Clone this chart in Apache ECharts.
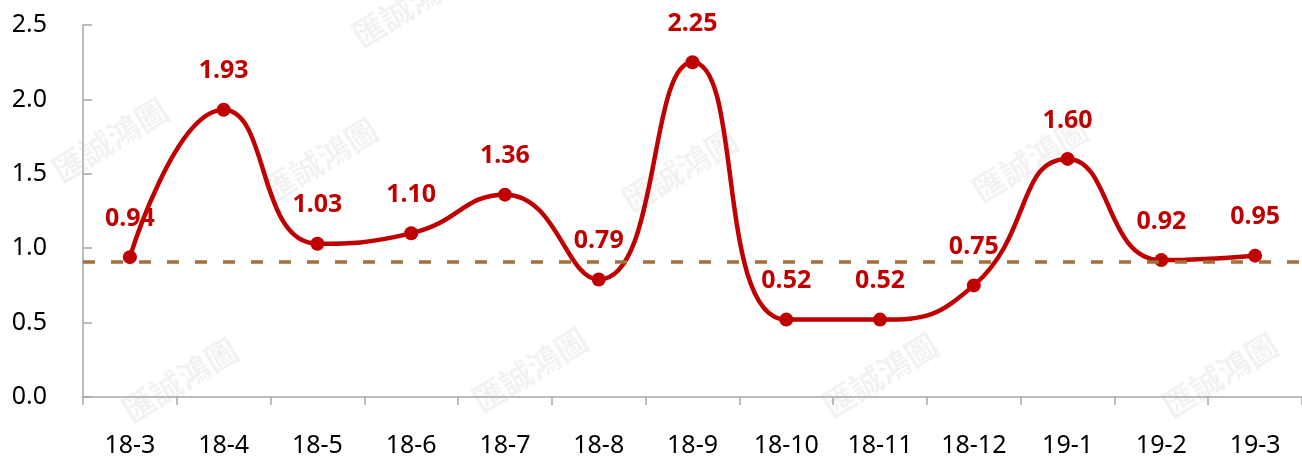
<!DOCTYPE html>
<html lang="zh">
<head>
	<meta charset="UTF-8">
	<title>chart</title>
	<style type="text/css">
		html, body { margin: 0; padding: 0; background: #fff; }
		#main { width: 1302px; height: 459px; }
	</style>
</head>
<body>
	<div id="main"></div>
	<script type="text/javascript" src="https://cdn.jsdelivr.net/npm/echarts@6/dist/echarts.min.js"></script>
	<script type="text/javascript">
		var months = ['18-3', '18-4', '18-5', '18-6', '18-7', '18-8', '18-9', '18-10', '18-11', '18-12', '19-1', '19-2', '19-3'];
		var values = [0.94, 1.93, 1.03, 1.10, 1.36, 0.79, 2.25, 0.52, 0.52, 0.75, 1.60, 0.92, 0.95];
		var refLevel = 0.91;

		var chart = echarts.init(document.getElementById('main'));

		// faint watermark stamps
		var marks = [[110, 140], [320, 160], [680, 170], [1030, 160], [180, 380], [530, 370], [880, 375], [1220, 375], [410, 5]];
		var graphics = marks.map(function (m) {
			return {
				type: 'text',
				x: m[0],
				y: m[1],
				rotation: 0.55,
				z: 0,
				style: {
					text: '匯誠鴻圖',
					fill: 'rgba(0,0,0,0.05)',
					font: 'bold 32px "Noto Sans CJK TC"',
					align: 'center',
					verticalAlign: 'middle'
				}
			};
		});

		var option = {
			animation: false,
			graphic: graphics,
			grid: {
				left: 83,
				right: 0,
				top: 25,
				bottom: 62
			},
			xAxis: {
				type: 'category',
				data: months,
				boundaryGap: true,
				axisLine: { lineStyle: { color: '#a6a6a6', width: 1.5 } },
				axisTick: { show: true, length: 8, lineStyle: { color: '#a6a6a6', width: 1.5 } },
				axisLabel: {
					color: '#000',
					fontFamily: 'Noto Sans',
					fontSize: 25,
					margin: 36
				}
			},
			yAxis: {
				type: 'value',
				min: 0,
				max: 2.5,
				interval: 0.5,
				splitLine: { show: false },
				axisLine: { show: true, lineStyle: { color: '#a6a6a6', width: 1.5 } },
				axisTick: { show: true, inside: true, length: 9, lineStyle: { color: '#a6a6a6', width: 1.5 } },
				axisLabel: {
					color: '#000',
					fontFamily: 'Noto Sans',
					fontSize: 25,
					margin: 36,
					formatter: function (v) { return v.toFixed(1); }
				}
			},
			series: [
				{
					type: 'line',
					data: values,
					smooth: 0.5,
					symbol: 'circle',
					symbolSize: 14,
					lineStyle: { color: '#c00000', width: 4.5 },
					itemStyle: { color: '#c00000' },
					label: {
						show: true,
						position: 'top',
						distance: 19,
						color: '#c00000',
						fontFamily: 'Noto Sans',
						fontWeight: 'bold',
						fontSize: 25,
						formatter: function (p) { return p.value.toFixed(2); }
					},
					markLine: {
						silent: true,
						symbol: 'none',
						label: { show: false },
						lineStyle: { color: '#a36f3b', type: [12, 16], width: 3.5 },
						data: [{ yAxis: refLevel }]
					},
					z: 3
				}
			]
		};

		chart.setOption(option);
	</script>
</body>
</html>
